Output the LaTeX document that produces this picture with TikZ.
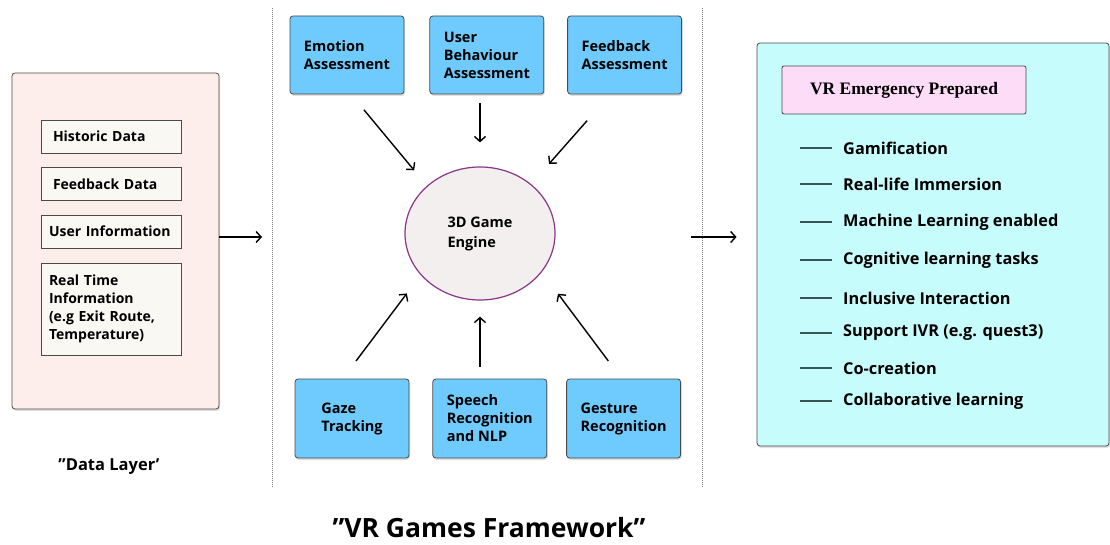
\documentclass[tikz,border=0pt]{standalone}
\usepackage{fontspec}
\setmainfont{Open Sans}
\newfontfamily\serifhead{Liberation Serif}
\usepackage{tikz}
\usetikzlibrary{positioning, arrows.meta, shadows, shapes.geometric}
\definecolor{layerpink}{HTML}{FDEEEB}
\definecolor{cream}{HTML}{FAF8F3}
\definecolor{modblue}{HTML}{6FCAFE}
\definecolor{engfill}{HTML}{F3EFEF}
\definecolor{engline}{HTML}{8A358A}
\definecolor{outcyan}{HTML}{C6FCFB}
\definecolor{titlepink}{HTML}{FCDCF7}
\definecolor{edgegray}{HTML}{4A4A4A}
\tikzset{
>={Straight Barb[length=5pt, width=11pt]}, % open arrow heads
boxshadow/.style={drop shadow={opacity=0.25, shadow xshift=1pt, shadow yshift=-2pt}}, % soft shadow under boxes
layerbox/.style={draw=edgegray, thick, rounded corners=3pt, fill=layerpink, boxshadow}, % the data layer
datbox/.style={draw=edgegray, fill=cream, text width=124pt, inner xsep=8pt, minimum height=33pt, align=left, font=\fontsize{14}{18}\selectfont\bfseries}, % inner data entries
modbox/.style={draw=edgegray, thick, rounded corners=3pt, fill=modblue, boxshadow, minimum width=114pt, minimum height=78pt, align=left, font=\fontsize{14.5}{18}\selectfont\bfseries}, % assessment and input modules
flow/.style={->, line width=1.4pt, black}, % arrows
}

\begin{document}
\begin{tikzpicture}[x=1pt, y=-1pt]
\useasboundingbox (0,0) rectangle (1110,545);

% data layer
\node[layerbox, minimum width=207pt, minimum height=336pt] (data) at (115.5,241) {};
\node[datbox] (hist) at (111,136.5) {\hspace{4pt}Historic Data};
\node[datbox, below=14pt of hist] (feed) {\hspace{4pt}Feedback Data};
\node[datbox, below=14pt of feed] (user) {User Information};
\node[datbox, below=15pt of user, minimum height=92pt] (real) {Real Time\\Information\\(e.g Exit Route,\\Temperature)};
\node[font=\fontsize{16.5}{20}\selectfont\bfseries] (datalabel) at (109,467) {"Data Layer'};
\coordinate (datain) at (262,237);
\draw[flow] (data.east |- datain) -- (datain);

% framework borders
\draw[densely dotted, gray, line width=1pt] (272,8) -- (272,487);
\draw[densely dotted, gray, line width=1pt] (702,8) -- (702,487);

% game engine
\node[ellipse, draw=engline, line width=1.2pt, fill=engfill, minimum width=150pt, minimum height=133pt, align=left, font=\fontsize{14.5}{20}\selectfont\bfseries] (engine) at (480,233.5) {3D Game\\Engine};

% modules
\node[modbox] (emo) at (347,55) {Emotion\\Assessment};
\node[modbox, right=25pt of emo] (ub) {User\\Behaviour\\Assessment};
\node[modbox, right=23pt of ub] (fb) {Feedback\\Assessment};
\node[modbox, minimum height=79pt] (gaze) at (352,418.5) {Gaze\\Tracking};
\node[modbox, minimum height=79pt, right=23pt of gaze] (speech) {Speech\\Recognition\\and NLP};
\node[modbox, minimum height=79pt, right=19pt of speech] (gesture) {Gesture\\Recognition};

\draw[flow, shorten <=20pt, shorten >=20pt] (emo.-84) -- (engine.138);
\draw[flow, shorten <=9pt, shorten >=24pt] (engine.north |- ub.south) -- (engine.north);
\draw[flow, shorten <=35pt, shorten >=27pt] (fb.-110) -- (engine.44);
\draw[flow, shorten <=22pt, shorten >=23pt] (gaze.103) -- (engine.-145);
\draw[flow, shorten <=12pt, shorten >=16pt] (engine.south |- speech.north) -- (engine.south);
\draw[flow, shorten <=22pt, shorten >=27pt] (gesture.93) -- (engine.-32);

\node[font=\fontsize{26.5}{30}\selectfont\bfseries] (framelabel) at (489,528) {''VR Games Framework''};

% output
\coordinate (dataout) at (691,237);
\node[draw=edgegray, thick, rounded corners=3pt, fill=outcyan, boxshadow, minimum width=352pt, minimum height=403pt] (vr) at (933,244.5) {};
\draw[flow, shorten >=20pt] (dataout) -- (vr.west |- dataout);
\node[draw=edgegray, thick, rounded corners=2pt, fill=titlepink, minimum width=244pt, minimum height=48pt, font=\serifhead\fontsize{17.5}{20}\selectfont\bfseries] (vrtitle) at (904,90) {VR Emergency Prepared};
\foreach \i/\y/\txt in {1/148/Gamification, 2/184/Real-life Immersion, 3/222/Machine Learning enabled, 4/260/Cognitive learning tasks, 5/298/Inclusive Interaction, 6/333/Support IVR (e.g. quest3), 7/368/Co-creation, 8/401/Collaborative learning}{
  \node[anchor=west, inner sep=0pt, font=\fontsize{16.3}{19}\selectfont\bfseries] (item\i) at (843,\y) {\txt};
  \draw[line width=1.2pt, draw=edgegray!80!teal] ([xshift=-11pt]item\i.west) -- ++(-32,0);
}
\end{tikzpicture}
\end{document}
